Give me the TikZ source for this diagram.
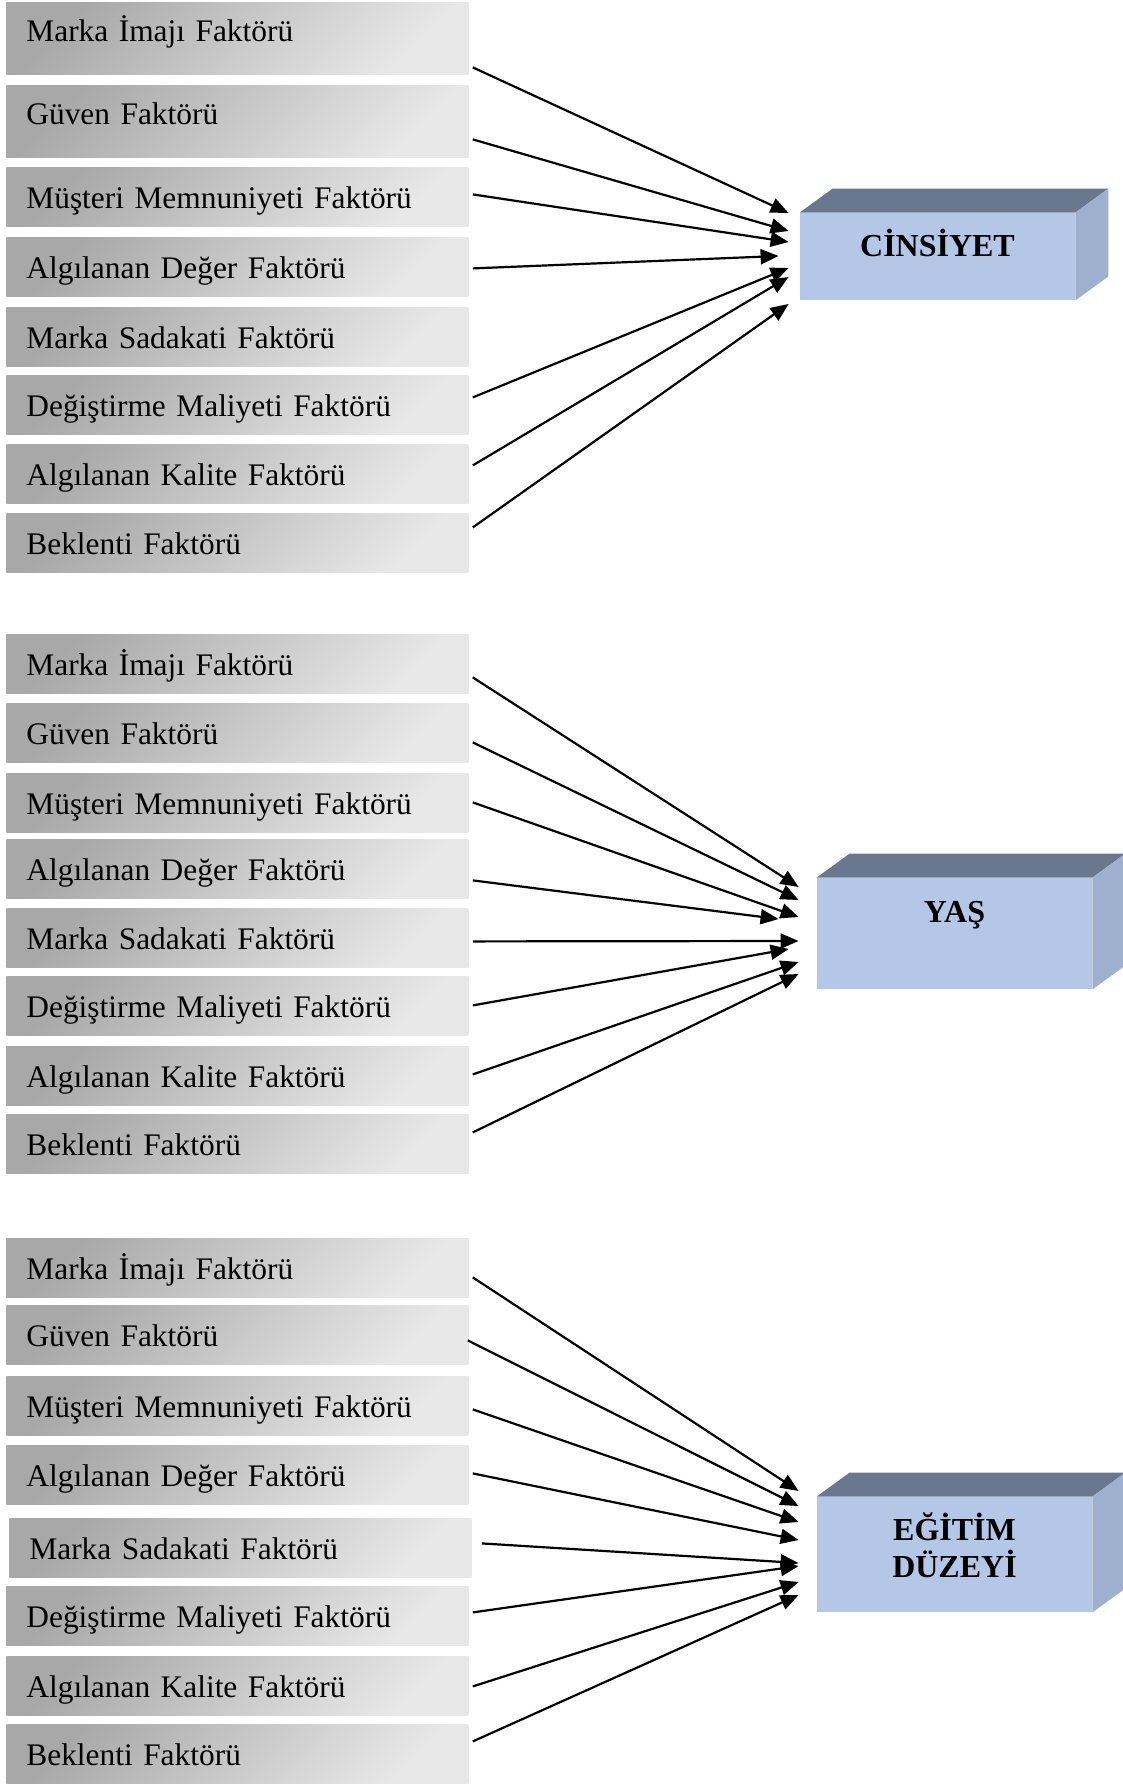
\documentclass[tikz,border=0pt]{standalone}
\usepackage{fontspec}
\setmainfont{Liberation Serif}
\usepackage{tikz}
\usetikzlibrary{positioning,calc,arrows.meta}
\usepackage{xcolor}
\definecolor{frontblue}{RGB}{180,199,231}
\definecolor{topslate}{RGB}{106,120,143}
\definecolor{sideblue}{RGB}{159,175,206}

\begin{document}
\begin{tikzpicture}[
    x=0.5pt, y=-0.5pt,
    factor/.style={rectangle, anchor=north west, text width=211pt, align=left, inner xsep=10pt, inner ysep=0pt,
        minimum height=29.5pt, text height=13.5pt, text depth=2pt,
        top color=black!34, bottom color=black!9, shading angle=45, font=\fontsize{15.7}{19}\selectfont},
    tallfactor/.style={factor, minimum height=36pt, text depth=10pt},
    target/.style={rectangle, fill=frontblue, minimum width=137.5pt, text height=11pt,
        align=center, font=\bfseries\fontsize{16}{18.5}\selectfont},
    topface/.style={fill=topslate},
    sideface/.style={fill=sideblue},
    arrow/.style={-{Triangle[length=9pt,width=7.5pt]}, line width=1.1pt}
]
    \useasboundingbox (0,0) rectangle (1123,1784);

    % Cinsiyet group
    \node[tallfactor, text depth=10.5pt] (imaj1) at (6,2) {Marka İmajı Faktörü};
    \node[tallfactor] (guven1) at (6,85) {Güven Faktörü};
    \node[factor] (memnun1) at (6,167) {Müşteri Memnuniyeti Faktörü};
    \node[factor] (deger1) at (6,237) {Algılanan Değer Faktörü};
    \node[factor] (sadakat1) at (6,307) {Marka Sadakati Faktörü};
    \node[factor] (maliyet1) at (6,375) {Değiştirme Maliyeti Faktörü};
    \node[factor] (kalite1) at (6,444) {Algılanan Kalite Faktörü};
    \node[factor] (beklenti1) at (6,513) {Beklenti Faktörü};

    \node[target, minimum height=43.5pt, text depth=11pt] (cinsiyet) at (937.5,256.5) {CİNSİYET};
    \fill[topface] (cinsiyet.north west) -- ++(33,-24) -- ($(cinsiyet.north east)+(33,-24)$) -- (cinsiyet.north east) -- cycle;
    \fill[sideface] (cinsiyet.north east) -- ++(33,-24) -- ($(cinsiyet.south east)+(33,-24)$) -- (cinsiyet.south east) -- cycle;

    % Yas group
    \node[factor] (imaj2) at (6,634) {Marka İmajı Faktörü};
    \node[factor] (guven2) at (6,703) {Güven Faktörü};
    \node[factor] (memnun2) at (6,773) {Müşteri Memnuniyeti Faktörü};
    \node[factor] (deger2) at (6,839) {Algılanan Değer Faktörü};
    \node[factor] (sadakat2) at (6,908) {Marka Sadakati Faktörü};
    \node[factor] (maliyet2) at (6,976) {Değiştirme Maliyeti Faktörü};
    \node[factor] (kalite2) at (6,1046) {Algılanan Kalite Faktörü};
    \node[factor] (beklenti2) at (6,1114) {Beklenti Faktörü};

    \node[target, minimum height=55.5pt, text depth=22.5pt] (yas) at (954.5,933.5) {YAŞ};
    \fill[topface] (yas.north west) -- ++(33,-24) -- ($(yas.north east)+(33,-24)$) -- (yas.north east) -- cycle;
    \fill[sideface] (yas.north east) -- ++(33,-24) -- ($(yas.south east)+(33,-24)$) -- (yas.south east) -- cycle;

    % Egitim group
    \node[factor] (imaj3) at (6,1238) {Marka İmajı Faktörü};
    \node[factor] (guven3) at (6,1305) {Güven Faktörü};
    \node[factor] (memnun3) at (6,1376) {Müşteri Memnuniyeti Faktörü};
    \node[factor] (deger3) at (6,1445) {Algılanan Değer Faktörü};
    \node[factor] (sadakat3) at (9,1518) {Marka Sadakati Faktörü};
    \node[factor] (maliyet3) at (6,1586) {Değiştirme Maliyeti Faktörü};
    \node[factor] (kalite3) at (6,1656) {Algılanan Kalite Faktörü};
    \node[factor] (beklenti3) at (6,1724) {Beklenti Faktörü};

    \node[target, minimum height=57.5pt, text height=30pt, text depth=7.5pt] (egitim) at (954.5,1554.5) {EĞİTİM\\DÜZEYİ};
    \fill[topface] (egitim.north west) -- ++(33,-24) -- ($(egitim.north east)+(33,-24)$) -- (egitim.north east) -- cycle;
    \fill[sideface] (egitim.north east) -- ++(33,-24) -- ($(egitim.south east)+(33,-24)$) -- (egitim.south east) -- cycle;

    % Arrows
    \draw[arrow] ($(imaj1.east)+(4,29)$) -- ($(cinsiyet.west)+(-11,-43.5)$);
    \draw[arrow] ($(guven1.east)+(4,18)$) -- ($(cinsiyet.west)+(-11,-25.5)$);
    \draw[arrow] ($(memnun1.east)+(4,-2.5)$) -- ($(cinsiyet.west)+(-11,-14.5)$);
    \draw[arrow] ($(deger1.east)+(4,1.5)$) -- ($(cinsiyet.west)+(-21,-0.5)$);
    \draw[arrow] ($(maliyet1.east)+(4,-7.5)$) -- ($(cinsiyet.west)+(-11,11.5)$);
    \draw[arrow] ($(kalite1.east)+(4,-8.5)$) -- ($(cinsiyet.west)+(-11,20.5)$);
    \draw[arrow] ($(beklenti1.east)+(4,-15.5)$) -- ($(cinsiyet.west)+(-11,47.5)$);

    \draw[arrow] ($(imaj2.east)+(4,13.5)$) -- ($(yas.west)+(-18,-46.5)$);
    \draw[arrow] ($(guven2.east)+(4,9.5)$) -- ($(yas.west)+(-18,-33.5)$);
    \draw[arrow] ($(memnun2.east)+(4,-0.5)$) -- ($(yas.west)+(-18,-16.5)$);
    \draw[arrow] ($(deger2.east)+(4,11.5)$) -- ($(yas.west)+(-38,-14.5)$);
    \draw[arrow] ($(sadakat2.east)+(4,3.5)$) -- ($(yas.west)+(-18,7.5)$);
    \draw[arrow] ($(maliyet2.east)+(4,-0.5)$) -- ($(yas.west)+(-28,15.5)$);
    \draw[arrow] ($(kalite2.east)+(4,-1.5)$) -- ($(yas.west)+(-18,28.5)$);
    \draw[arrow] ($(beklenti2.east)+(4,-11.5)$) -- ($(yas.west)+(-18,40.5)$);

    \draw[arrow] ($(imaj3.east)+(4,9.5)$) -- ($(egitim.west)+(-18,-63.5)$);
    \draw[arrow] ($(guven3.east)+(-1,5.5)$) -- ($(egitim.west)+(-18,-48.5)$);
    \draw[arrow] ($(memnun3.east)+(4,3.5)$) -- ($(egitim.west)+(-18,-32.5)$);
    \draw[arrow] ($(deger3.east)+(4,-1.5)$) -- ($(egitim.west)+(-18,-14.5)$);
    \draw[arrow] ($(sadakat3.east)+(10,-4.5)$) -- ($(egitim.west)+(-18,8.5)$);
    \draw[arrow] ($(maliyet3.east)+(4,-3.5)$) -- ($(egitim.west)+(-18,11.5)$);
    \draw[arrow] ($(kalite3.east)+(4,0.5)$) -- ($(egitim.west)+(-18,27.5)$);
    \draw[arrow] ($(beklenti3.east)+(4,-12.5)$) -- ($(egitim.west)+(-18,40.5)$);
\end{tikzpicture}
\end{document}
